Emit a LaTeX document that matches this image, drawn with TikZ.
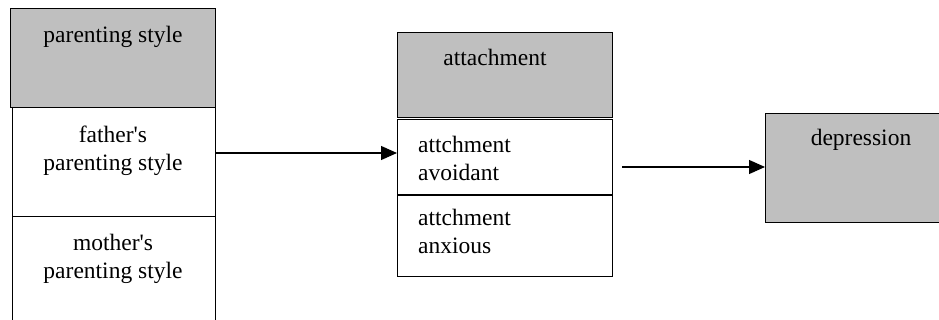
\documentclass[tikz,border=0pt]{standalone}
\usepackage{fontspec}
\setmainfont{Liberation Serif}
\usetikzlibrary{arrows.meta}
\begin{document}
\begin{tikzpicture}[x=1pt,y=1pt,
  graybox/.style={draw=black,line width=1.2pt,fill=gray!50,inner sep=0pt,anchor=north west},
  whitebox/.style={draw=black,line width=1.2pt,fill=white,inner sep=0pt,anchor=north west},
  lbl/.style={inner sep=0pt,font=\fontsize{23.5}{27.5}\selectfont},
  conn/.style={line width=1.2pt,-{Triangle[length=16pt,width=14pt]}}]
\useasboundingbox[fill=white] (0,0) rectangle (939,-320);
% left group
\node[graybox,minimum width=205,minimum height=99] (ps) at (10,-8) {};
\node[whitebox,minimum width=203,minimum height=109] (fa) at (12,-107) {};
\node[whitebox,minimum width=203,minimum height=120] (mo) at (12,-216) {};
\node[lbl,anchor=north] (pst) at (113,-26) {parenting style};
\node[lbl,anchor=north,align=center] (fat) at (113,-126) {father\textquotesingle s\\parenting style};
\node[lbl,anchor=north,align=center] (mot) at (113,-234) {mother\textquotesingle s\\parenting style};
% middle group
\node[graybox,minimum width=215,minimum height=85] (at) at (397,-32) {};
\node[whitebox,minimum width=215,minimum height=75] (av) at (397,-119) {};
\node[whitebox,minimum width=215,minimum height=81] (an) at (397,-195) {};
\node[lbl,anchor=north] (att) at (495,-49) {attachment};
\node[lbl,anchor=north west,align=left] (avt) at (418,-136) {attchment\\avoidant};
\node[lbl,anchor=north west,align=left] (ant) at (418,-209) {attchment\\anxious};
% right
\node[graybox,minimum width=185,minimum height=109] (de) at (765,-113) {};
\node[lbl,anchor=north] (det) at (861,-129) {depression};
% connectors
\coordinate (s1) at (215,-153);
\coordinate (e1) at (397,-153);
\draw[conn] (s1) -- (e1);
\coordinate (s2) at (622,-167);
\coordinate (e2) at (765,-167);
\draw[conn] (s2) -- (e2);
\end{tikzpicture}
\end{document}
